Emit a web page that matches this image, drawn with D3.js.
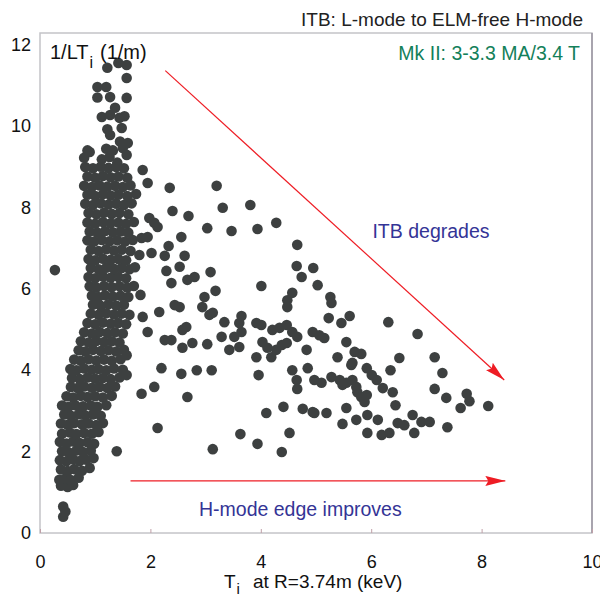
<!DOCTYPE html>
<html>
<head>
<meta charset="utf-8">
<script src="https://cdn.jsdelivr.net/npm/d3@7"></script>
<style>
  body { margin: 0; background: #fff; }
  svg { display: block; font-family: "Liberation Sans", Arial, sans-serif; }
</style>
</head>
<body>
<svg id="chart"></svg>
<script>
(function () {
    "use strict";

    // axis ticks
    var xTicks = [0, 2, 4, 6, 8, 10];
    var yTicks = [0, 2, 4, 6, 8, 10, 12];

    // dense L-mode cluster, [Ti (keV), 1/LTi (1/m)]
    var coreCluster = [
        [0.42, 0.40], [0.46, 0.53], [0.42, 0.65],
        [0.38, 1.16], [0.50, 1.13], [0.60, 1.18],
        [0.35, 1.31], [0.46, 1.34], [0.56, 1.30], [0.70, 1.36],
        [0.38, 1.56], [0.50, 1.52], [0.62, 1.57], [0.76, 1.53], [0.90, 1.60],
        [0.36, 1.79], [0.48, 1.76], [0.60, 1.81], [0.72, 1.77], [0.84, 1.80], [0.97, 1.84],
        [0.40, 2.01], [0.52, 1.98], [0.66, 2.03], [0.78, 1.99], [0.92, 2.02],
        [0.36, 2.24], [0.48, 2.20], [0.60, 2.25], [0.72, 2.21], [0.86, 2.23], [0.98, 2.19],
        [0.40, 2.44], [0.54, 2.47], [0.66, 2.43], [0.80, 2.46], [0.94, 2.44], [1.06, 2.48],
        [0.38, 2.69], [0.50, 2.66], [0.62, 2.70], [0.76, 2.67], [0.88, 2.69], [1.02, 2.65], [1.14, 2.70],
        [0.44, 2.91], [0.56, 2.88], [0.70, 2.92], [0.82, 2.89], [0.96, 2.91], [1.10, 2.88],
        [0.40, 3.13], [0.52, 3.10], [0.64, 3.14], [0.78, 3.11], [0.92, 3.13], [1.04, 3.10], [1.20, 3.14],
        [0.48, 3.36], [0.60, 3.33], [0.74, 3.37], [0.86, 3.34], [1.00, 3.36], [1.14, 3.33], [1.30, 3.37],
        [0.56, 3.59], [0.68, 3.56], [0.80, 3.60], [0.94, 3.57], [1.08, 3.59], [1.22, 3.56], [1.36, 3.60],
        [0.58, 3.81], [0.72, 3.78], [0.86, 3.82], [1.00, 3.79], [1.14, 3.81], [1.28, 3.78], [1.44, 3.82],
        [0.55, 4.03], [0.66, 4.00], [0.80, 4.04], [0.94, 4.01], [1.06, 4.03], [1.20, 4.00], [1.34, 4.04], [1.50, 4.01],
        [0.62, 4.26], [0.74, 4.23], [0.88, 4.27], [1.02, 4.24], [1.16, 4.26], [1.30, 4.23], [1.46, 4.27],
        [0.70, 4.49], [0.82, 4.46], [0.96, 4.50], [1.10, 4.47], [1.24, 4.49], [1.38, 4.46], [1.52, 4.50],
        [0.74, 4.71], [0.88, 4.68], [1.02, 4.72], [1.16, 4.69], [1.30, 4.71], [1.44, 4.68],
        [0.80, 4.93], [0.94, 4.90], [1.08, 4.94], [1.22, 4.91], [1.36, 4.93], [1.50, 4.90],
        [0.86, 5.16], [1.00, 5.13], [1.14, 5.17], [1.28, 5.14], [1.42, 5.16], [1.56, 5.13],
        [0.92, 5.39], [1.06, 5.36], [1.20, 5.40], [1.34, 5.37], [1.48, 5.39], [1.62, 5.36],
        [0.96, 5.61], [1.10, 5.58], [1.24, 5.62], [1.38, 5.59], [1.52, 5.61],
        [0.94, 5.83], [1.06, 5.80], [1.18, 5.84], [1.32, 5.81], [1.46, 5.83], [1.60, 5.80],
        [0.90, 6.06], [1.02, 6.03], [1.16, 6.07], [1.30, 6.04], [1.44, 6.06], [1.58, 6.03], [1.70, 6.07],
        [0.88, 6.29], [1.00, 6.26], [1.14, 6.30], [1.28, 6.27], [1.42, 6.29], [1.56, 6.26],
        [0.92, 6.51], [1.06, 6.48], [1.20, 6.52], [1.34, 6.49], [1.48, 6.51], [1.62, 6.48], [1.72, 6.53],
        [0.88, 6.73], [1.00, 6.70], [1.14, 6.74], [1.28, 6.71], [1.42, 6.73], [1.56, 6.70],
        [0.92, 6.96], [1.06, 6.93], [1.20, 6.97], [1.34, 6.94], [1.48, 6.96], [1.64, 6.93],
        [0.86, 7.19], [0.98, 7.16], [1.12, 7.20], [1.26, 7.17], [1.40, 7.19], [1.54, 7.16], [1.68, 7.20],
        [0.90, 7.41], [1.04, 7.38], [1.18, 7.42], [1.32, 7.39], [1.46, 7.41], [1.60, 7.38],
        [0.86, 7.63], [1.00, 7.60], [1.14, 7.64], [1.28, 7.61], [1.42, 7.63], [1.56, 7.60], [1.70, 7.64],
        [0.88, 7.86], [1.02, 7.83], [1.16, 7.87], [1.30, 7.84], [1.44, 7.86], [1.60, 7.83],
        [0.82, 8.09], [0.96, 8.06], [1.10, 8.10], [1.24, 8.07], [1.38, 8.09], [1.52, 8.06], [1.66, 8.10],
        [0.86, 8.31], [1.00, 8.28], [1.14, 8.32], [1.28, 8.29], [1.42, 8.31], [1.58, 8.28], [1.74, 8.33],
        [0.80, 8.53], [0.94, 8.50], [1.08, 8.54], [1.22, 8.51], [1.36, 8.53], [1.50, 8.50], [1.64, 8.54],
        [0.86, 8.76], [1.00, 8.73], [1.14, 8.77], [1.28, 8.74], [1.42, 8.76], [1.58, 8.73],
        [0.82, 8.99], [0.96, 8.96], [1.10, 9.00], [1.24, 8.97], [1.38, 8.99], [1.52, 8.96],
        [0.80, 9.22], [0.90, 9.36], [1.12, 9.18], [1.26, 9.24], [1.40, 9.10], [1.57, 9.29],
        [0.86, 9.40], [1.20, 9.44], [1.32, 9.40], [1.50, 9.46],
        [1.27, 9.78], [1.45, 9.62], [1.59, 9.58],
        [1.22, 9.92], [1.48, 9.95],
        [1.12, 10.22], [1.27, 10.27], [1.44, 10.20], [1.53, 10.24],
        [1.36, 10.45],
        [1.04, 10.70], [1.27, 10.71], [1.57, 10.69], [1.04, 10.96], [1.20, 10.96],
        [1.57, 11.18],
        [1.22, 11.43], [1.42, 11.55], [1.57, 11.50],
        [0.27, 6.46]
    ];

    // scattered points outside the main cluster
    var spreadPoints = [
        [1.86, 8.92], [1.95, 8.60], [2.35, 8.48], [3.20, 8.53], [2.40, 7.91], [2.69, 7.79],
        [3.31, 7.99], [3.81, 8.06], [3.03, 7.49], [3.47, 7.42], [3.94, 7.47], [4.28, 7.62],
        [4.66, 7.08], [2.56, 7.27], [2.33, 7.05], [2.26, 6.81], [2.62, 6.81], [2.53, 6.54],
        [2.29, 6.44], [3.09, 6.41], [2.38, 6.14], [2.67, 6.22], [2.80, 6.29], [4.65, 6.56],
        [4.95, 6.51], [4.74, 6.29], [5.03, 6.09], [4.01, 6.07], [2.98, 5.80], [3.18, 5.95],
        [4.57, 5.90], [4.48, 5.72], [4.48, 5.55], [2.44, 5.60], [2.53, 5.55], [2.16, 5.43],
        [2.94, 5.55], [3.13, 5.41], [3.65, 5.33], [1.82, 5.85], [1.98, 7.74], [2.07, 7.62],
        [2.13, 7.52], [1.95, 7.27], [1.84, 7.25], [2.02, 6.88], [1.80, 6.83], [5.26, 5.80],
        [5.28, 5.65], [3.07, 5.36], [3.34, 5.18], [3.61, 5.16], [3.65, 4.94], [3.92, 5.16],
        [4.01, 5.11], [4.21, 4.99], [4.34, 5.04], [4.47, 5.11], [4.57, 4.94], [4.66, 4.82],
        [4.03, 4.69], [4.12, 4.55], [3.92, 4.32], [4.19, 4.32], [4.28, 4.50], [4.38, 4.62],
        [4.47, 4.67], [4.83, 4.50], [4.94, 4.94], [5.06, 4.86], [5.15, 4.79], [5.23, 5.28],
        [5.46, 5.16], [5.61, 5.33], [5.55, 4.69], [5.70, 4.45], [5.39, 4.32], [5.82, 4.40],
        [3.43, 4.50], [3.61, 4.57], [3.29, 4.82], [3.52, 4.82], [2.58, 4.99], [2.65, 5.06],
        [2.58, 4.55], [2.76, 4.67], [3.03, 4.64], [2.26, 4.74], [2.38, 4.74], [1.95, 4.94],
        [1.86, 5.31], [2.20, 4.05], [2.56, 3.91], [2.84, 4.00], [3.11, 4.00], [2.07, 3.59],
        [2.67, 3.34], [1.84, 3.42], [3.96, 3.88], [4.57, 4.00], [4.65, 3.76], [4.66, 3.54],
        [4.85, 4.05], [4.97, 3.76], [5.10, 3.69], [5.28, 3.83], [5.43, 3.76], [5.55, 3.69],
        [5.66, 3.76], [5.66, 4.18], [1.57, 4.37], [1.57, 3.88], [4.10, 2.95], [4.41, 3.10],
        [4.76, 3.05], [4.94, 2.97], [2.13, 2.58], [3.63, 2.43], [3.94, 2.19], [3.13, 2.06],
        [4.38, 1.99], [4.52, 2.46], [6.31, 5.18], [6.84, 4.89], [5.64, 4.13], [5.92, 4.05],
        [6.01, 3.88], [6.10, 3.76], [6.21, 3.56], [6.39, 3.46], [6.51, 4.30], [6.35, 4.00],
        [7.15, 4.32], [7.29, 3.93], [5.48, 3.64], [5.75, 3.46], [5.82, 3.34], [5.88, 3.22],
        [5.92, 3.39], [7.15, 3.54], [7.36, 3.32], [7.73, 3.42], [7.78, 3.24], [7.62, 3.07],
        [8.12, 3.12], [6.44, 3.14], [4.97, 2.95], [5.19, 2.95], [5.55, 3.07], [5.48, 2.68],
        [5.73, 2.78], [5.93, 2.90], [6.12, 2.78], [5.93, 2.46], [6.19, 2.41], [6.33, 2.46],
        [6.48, 2.70], [6.60, 2.65], [6.75, 2.90], [6.78, 2.46], [6.91, 2.73], [7.06, 2.73],
        [7.38, 2.60], [5.73, 3.59], [1.39, 2.01]
    ];

    // annotation arrows in data units: [x1, y1, x2, y2]
    var arrows = [
        [2.27, 11.36, 8.41, 3.76],
        [1.64, 1.28, 8.43, 1.28]
    ];

    var width = 600,
        height = 601;

    var svg = d3.select("svg#chart")
        .attr("width", width)
        .attr("height", height);

    var x = d3.scaleLinear().domain([0, 10]).range([40, 592]);
    var y = d3.scaleLinear().domain([0, 12]).range([533, 44.6]);

    var defs = svg.append("defs");
    defs.append("filter")
        .attr("id", "soft")
        .append("feGaussianBlur")
        .attr("stdDeviation", 0.55);
    defs.append("marker")
        .attr("id", "head")
        .attr("viewBox", "0 0 20 10")
        .attr("refX", 20)
        .attr("refY", 5)
        .attr("markerUnits", "userSpaceOnUse")
        .attr("markerWidth", 20)
        .attr("markerHeight", 10)
        .attr("orient", "auto")
        .append("path")
        .attr("d", "M0,0 L20,5 L0,10 L3,5 Z")
        .attr("fill", "#ee1c24");

    // frame
    svg.append("rect")
        .attr("x", x(0))
        .attr("y", 33)
        .attr("width", x(10) - x(0))
        .attr("height", y(0) - 33)
        .attr("fill", "none")
        .attr("stroke", "#c4c4c8")
        .attr("stroke-width", 1.5);
    svg.append("line")
        .attr("x1", x(10)).attr("x2", x(10))
        .attr("y1", 33).attr("y2", y(0))
        .attr("stroke", "#9a94a0")
        .attr("stroke-width", 1.5);

    // x axis (ticks inside)
    var xAxis = svg.append("g")
        .attr("transform", "translate(0," + y(0) + ")")
        .call(d3.axisBottom(x).tickValues(xTicks).tickSize(-4).tickPadding(22).tickFormat(d3.format("d")));
    xAxis.select(".domain").remove();
    xAxis.selectAll("line").attr("stroke", "#c0a0a8");
    xAxis.selectAll("text")
        .attr("font-size", 18)
        .attr("font-family", "Liberation Sans, Arial, sans-serif")
        .attr("fill", "#111");

    var yAxis = svg.append("g")
        .attr("transform", "translate(" + x(0) + ",0)")
        .call(d3.axisLeft(y).tickValues(yTicks).tickSize(0).tickPadding(9).tickFormat(d3.format("d")));
    yAxis.select(".domain").remove();
    yAxis.selectAll("text")
        .attr("font-size", 18)
        .attr("font-family", "Liberation Sans, Arial, sans-serif")
        .attr("fill", "#111");

    // points
    var pts = svg.append("g").attr("filter", "url(#soft)");
    pts.selectAll("circle.core")
        .data(coreCluster)
        .enter().append("circle")
        .attr("class", "core")
        .attr("cx", function (d) { return x(d[0]); })
        .attr("cy", function (d) { return y(d[1]); })
        .attr("r", 5.3)
        .attr("fill", "#3d4141");
    pts.selectAll("circle.spread")
        .data(spreadPoints)
        .enter().append("circle")
        .attr("class", "spread")
        .attr("cx", function (d) { return x(d[0]); })
        .attr("cy", function (d) { return y(d[1]); })
        .attr("r", 5.3)
        .attr("fill", "#3d4141");

    // arrows
    svg.selectAll("line.arrow")
        .data(arrows)
        .enter().append("line")
        .attr("class", "arrow")
        .attr("x1", function (d) { return x(d[0]); })
        .attr("y1", function (d) { return y(d[1]); })
        .attr("x2", function (d) { return x(d[2]); })
        .attr("y2", function (d) { return y(d[3]); })
        .attr("stroke", "#ee1c24")
        .attr("stroke-width", 1.2)
        .attr("marker-end", "url(#head)");

    // texts
    svg.append("text")
        .attr("x", 583).attr("y", 26)
        .attr("text-anchor", "end")
        .attr("font-size", 19)
        .attr("fill", "#222")
        .text("ITB: L-mode to ELM-free H-mode");

    svg.append("text")
        .attr("x", 580).attr("y", 60)
        .attr("text-anchor", "end")
        .attr("font-size", 19.5)
        .attr("fill", "#13805a")
        .text("Mk II: 3-3.3 MA/3.4 T");

    var yl = svg.append("text")
        .attr("x", 50).attr("y", 59)
        .attr("font-size", 20)
        .attr("fill", "#111");
    yl.append("tspan").text("1/LT");
    yl.append("tspan").attr("dx", 1).attr("dy", 9).attr("font-size", 16).text("i");
    yl.append("tspan").attr("x", 100).attr("dy", -9).text("(1/m)");

    var xl = svg.append("text")
        .attr("x", 224).attr("y", 588)
        .attr("font-size", 19)
        .attr("fill", "#111");
    xl.append("tspan").text("T");
    xl.append("tspan").attr("dx", 1).attr("dy", 6).attr("font-size", 15).text("i");
    xl.append("tspan").attr("x", 253).attr("dy", -6).text("at R=3.74m (keV)");

    svg.append("text")
        .attr("x", 431).attr("y", 238)
        .attr("text-anchor", "middle")
        .attr("font-size", 19.5)
        .attr("fill", "#343496")
        .text("ITB degrades");

    svg.append("text")
        .attr("x", 199).attr("y", 516)
        .attr("font-size", 19.5)
        .attr("fill", "#343496")
        .text("H-mode edge improves");
})();
</script>
</body>
</html>
